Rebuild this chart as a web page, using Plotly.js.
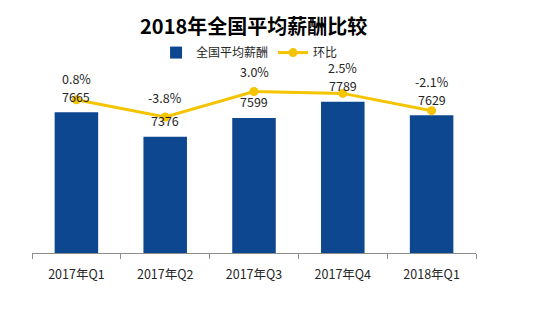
<!DOCTYPE html>
<html>
<head>
<meta charset="utf-8">
<script src="https://cdn.plot.ly/plotly-3.0.1.min.js"></script>
<style>html,body{margin:0;padding:0;background:#fff;}#chart{width:534px;height:326px;}</style>
</head>
<body>
<div id="chart"></div>
<script>
var categories = ["2017年Q1", "2017年Q2", "2017年Q3", "2017年Q4", "2018年Q1"];
var salary = [7665, 7376, 7599, 7789, 7629];
var qoq = [0.8, -3.8, 3.0, 2.5, -2.1];
var qoqLabels = ["0.8%", "-3.8%", "3.0%", "2.5%", "-2.1%"];

var FONT = '"Noto Sans CJK SC", "Microsoft YaHei", sans-serif';
var yRange = [6000, 8000];
var y2Range = [-40, 5];
var mt = 84, mb = 73, H = 326;
var plotH = H - mt - mb;

function pixY(v) { return mt + (yRange[1] - v) / (yRange[1] - yRange[0]) * plotH; }
function pixY2(v) { return mt + (y2Range[1] - v) / (y2Range[1] - y2Range[0]) * plotH; }

var annotations = [];
for (var i = 0; i < categories.length; i++) {
  annotations.push({
    x: categories[i], y: salary[i], xref: 'x', yref: 'y',
    text: String(salary[i]), showarrow: false, yshift: 16,
    font: {family: FONT, size: 12.5, color: '#262626'}
  });
  var barLabelPix = pixY(salary[i]) - 16;
  var markerPix = pixY2(qoq[i]);
  var target = Math.min(markerPix - 20, barLabelPix - 18);
  annotations.push({
    x: categories[i], y: qoq[i], xref: 'x', yref: 'y2',
    text: qoqLabels[i], showarrow: false, yshift: markerPix - target,
    font: {family: FONT, size: 12.5, color: '#262626'}
  });
}

var traces = [
  {
    type: 'bar', name: '全国平均薪酬', x: categories, y: salary,
    marker: {color: '#0C4790'}, hoverinfo: 'none'
  },
  {
    type: 'scatter', mode: 'lines+markers', name: '环比', x: categories, y: qoq,
    yaxis: 'y2', line: {color: '#F5C400', width: 3},
    marker: {color: '#F5C400', size: 9}, hoverinfo: 'none'
  }
];

var layout = {
  width: 534, height: 326,
  margin: {l: 32, r: 58, t: mt, b: mb},
  paper_bgcolor: '#ffffff', plot_bgcolor: '#ffffff',
  font: {family: FONT, color: '#262626'},
  title: {text: '<b>2018年全国平均薪酬比较</b>', x: 0.475, xanchor: 'center', y: 0.918, yanchor: 'middle',
          font: {family: FONT, size: 20, color: '#000000'}},
  showlegend: true,
  legend: {orientation: 'h', x: 0.49, xanchor: 'center', y: 1.186, yanchor: 'middle',
           font: {family: FONT, size: 12, color: '#262626'}, itemwidth: 30, tracegroupgap: 0,
           bgcolor: 'rgba(0,0,0,0)'},
  bargap: 0.51,
  xaxis: {
    type: 'category', showgrid: false, zeroline: false,
    showline: true, linecolor: '#8c8c8c', linewidth: 1,
    ticks: 'outside', tickson: 'boundaries', ticklen: 5, tickcolor: '#8c8c8c',
    ticklabelstandoff: 10,
    tickfont: {family: FONT, size: 12.5, color: '#262626'}
  },
  yaxis: {range: yRange, visible: false, showgrid: false, zeroline: false, fixedrange: true},
  yaxis2: {range: y2Range, overlaying: 'y', side: 'right', visible: false, showgrid: false, zeroline: false},
  annotations: annotations
};

Plotly.newPlot('chart', traces, layout, {staticPlot: true, displayModeBar: false});
</script>
</body>
</html>
